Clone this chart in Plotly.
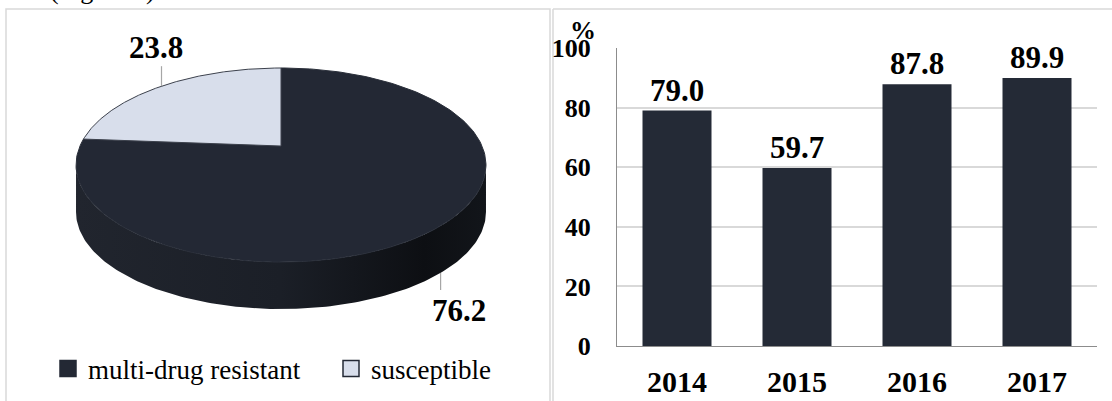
import numpy as np
import plotly.graph_objects as go

# ---------------- data ----------------
pie_labels = ["multi-drug resistant", "susceptible"]
pie_values = [76.2, 23.8]
pie_colors = ["#232834", "#d8deeb"]

years = ["2014", "2015", "2016", "2017"]
mdr_rate = [79.0, 59.7, 87.8, 89.9]
bar_color = "#242a36"

FONT = "Liberation Serif, Times New Roman, serif"
W, H = 1112, 401

# ---------------- 3D pie geometry (pixel space of left panel) ----------------
CX, CY, A, B, K, DEPTH = 281, 146, 201, 93.3, 0.196, 47


def proj(phi, dy=0.0):
    u, v = np.cos(phi), np.sin(phi)
    w = 1 + K * v
    return CX + A * u / w, CY - B * v / w + dy


fig = go.Figure()

total = sum(pie_values)
starts, ends = [], []
cur = np.pi / 2
for v in pie_values:
    span = 2 * np.pi * v / total
    starts.append(cur)
    ends.append(cur - span)
    cur -= span

# visible front wall range
f_lo, f_hi = -np.pi + np.arcsin(K), -np.arcsin(K)
wall_scale = [[0, "#21252e"], [0.5, "#1b1f27"], [0.85, "#0d0f13"], [1, "#12151a"]]

for i, (s, e) in enumerate(zip(starts, ends)):
    for shift in (-2 * np.pi, 0, 2 * np.pi):
        lo, hi = max(e + shift, f_lo), min(s + shift, f_hi)
        if hi <= lo:
            continue
        ph = np.linspace(lo, hi, 160)
        xt, yt = proj(ph)
        xb, yb = proj(ph[::-1], DEPTH)
        kw = dict(fillgradient=dict(type="horizontal", colorscale=wall_scale)) if i == 0 \
            else dict(fillcolor=pie_colors[i])
        fig.add_trace(go.Scatter(
            x=np.r_[xt, xb, xt[:1]], y=np.r_[yt, yb, yt[:1]],
            mode="lines", fill="toself", line=dict(color="rgba(0,0,0,0)", width=0),
            showlegend=False, hoverinfo="skip", xaxis="x2", yaxis="y2", **kw))

# top faces
for i, (s, e) in enumerate(zip(starts, ends)):
    ph = np.linspace(s, e, 200)
    xa, ya = proj(ph)
    xs = np.r_[CX, xa, CX]
    ys = np.r_[CY, ya, CY]
    lc = "#3c414c" if i == 1 else "#2a2f3a"
    fig.add_trace(go.Scatter(
        x=xs, y=ys, mode="lines", fill="toself", fillcolor=pie_colors[i],
        line=dict(color=lc, width=1), showlegend=False, hoverinfo="skip",
        xaxis="x2", yaxis="y2"))

# legend entries
for i, lab in enumerate(pie_labels):
    fig.add_trace(go.Scatter(
        x=[None], y=[None], mode="markers", name=lab,
        marker=dict(symbol="square", size=18, color=pie_colors[i],
                    line=dict(color="#232834", width=1.5)),
        xaxis="x2", yaxis="y2"))

# data labels with leader lines
annotations = []
for i, (s, e) in enumerate(zip(starts, ends)):
    mid = (s + e) / 2
    on_front = np.sin(mid) < 0
    if on_front:
        x0, y0 = proj(mid, DEPTH)
        y1 = y0 + 17
        tx, ty = x0 + 18, y1 + 21
    else:
        x0, y0 = proj(mid)
        y1 = y0 - 20
        tx, ty = x0 - 6, y1 - 19
    fig.add_trace(go.Scatter(x=[x0, x0], y=[y0, y1], mode="lines",
                             line=dict(color="#a6a6a6", width=1.2),
                             showlegend=False, hoverinfo="skip",
                             xaxis="x2", yaxis="y2"))
    annotations.append(dict(x=tx, y=ty, xref="x2", yref="y2", text=f"{pie_values[i]:.1f}",
                            showarrow=False, xanchor="center", yanchor="middle",
                            font=dict(family=FONT, size=31, color="black", weight="bold")))

# ---------------- bar chart ----------------
fig.add_trace(go.Bar(x=years, y=mdr_rate, marker=dict(color=bar_color, line=dict(width=0)),
                     texttemplate="%{y:.1f}", textposition="outside", cliponaxis=False,
                     textfont=dict(family=FONT, size=31, color="black", weight="bold"),
                     showlegend=False, hoverinfo="skip", xaxis="x", yaxis="y"))

annotations.append(dict(x=583 / W, y=1 - 30 / H, xref="paper", yref="paper", text="%",
                        showarrow=False, xanchor="center", yanchor="middle",
                        font=dict(family=FONT, size=26, color="black", weight="bold")))
annotations.append(dict(x=102 / W, y=1 - 7 / H, xref="paper", yref="paper", text="(Figure 1)",
                        showarrow=False, xanchor="center", yanchor="bottom",
                        font=dict(family=FONT, size=26, color="black")))

shapes = [
    dict(type="rect", xref="paper", yref="paper", x0=6 / W, x1=550 / W, y0=-0.05, y1=1 - 9 / H,
         line=dict(color="#d9d9d9", width=1.5), layer="below"),
    dict(type="line", xref="paper", yref="paper", x0=553 / W, x1=553 / W, y0=-0.05, y1=1 - 9 / H,
         line=dict(color="#d9d9d9", width=1.5), layer="below"),
    dict(type="line", xref="paper", yref="paper", x0=553 / W, x1=1.01, y0=1 - 9 / H, y1=1 - 9 / H,
         line=dict(color="#d9d9d9", width=1.5), layer="below"),
]

fig.update_layout(
    width=W, height=H, margin=dict(l=0, r=0, t=0, b=0, autoexpand=False),
    paper_bgcolor="white", plot_bgcolor="rgba(0,0,0,0)",
    font=dict(family=FONT, color="black"),
    bargap=0.425,
    xaxis=dict(domain=[617 / W, 1097 / W], type="category", range=[-0.5, 3.5],
               showline=True, automargin=False,
               linecolor="#8c8c8c", linewidth=1, ticks="", showgrid=False,
               tickfont=dict(family=FONT, size=30, color="black", weight="bold"),
               ticklabelstandoff=9, fixedrange=True),
    yaxis=dict(domain=[1 - 346 / H, 1 - 48 / H], range=[0, 100], dtick=20, automargin=False,
               showgrid=True, gridcolor="#d9d9d9", gridwidth=1.5, zeroline=False,
               showline=True, linecolor="#8c8c8c", linewidth=1, ticks="",
               tickfont=dict(family=FONT, size=26, color="black", weight="bold"),
               ticklabelstandoff=20, fixedrange=True),
    xaxis2=dict(domain=[0, 556 / W], range=[0, 556], visible=False, fixedrange=True,
                automargin=False),
    yaxis2=dict(domain=[0, 1], range=[H, 0], visible=False, fixedrange=True,
                automargin=False),
    legend=dict(orientation="h", x=48 / W, xanchor="left", y=1 - 369 / H, yanchor="middle",
                font=dict(family=FONT, size=27, color="black"),
                entrywidth=238, entrywidthmode="pixels", itemwidth=30,
                bgcolor="rgba(0,0,0,0)"),
    annotations=annotations, shapes=shapes,
)

fig.write_html("out.html", config={"displayModeBar": False},
               post_script="document.body.style.margin='0';document.body.style.overflow='hidden';")
